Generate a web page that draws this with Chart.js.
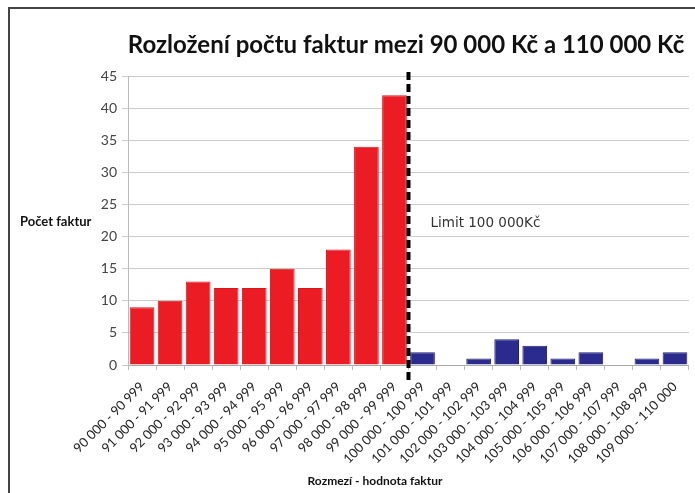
<!DOCTYPE html>
<html>
<head>
<meta charset="utf-8">
<script src="https://cdn.jsdelivr.net/npm/chart.js@4"></script>
<style>
  html, body { margin: 0; padding: 0; background: #fff; }
  #wrap { width: 695px; height: 493px; }
</style>
</head>
<body>
<div id="wrap"><canvas id="myChart" width="695" height="493"></canvas></div>
<script>
var categories = [
    '90 000 - 90 999', '91 000 - 91 999', '92 000 - 92 999', '93 000 - 93 999',
    '94 000 - 94 999', '95 000 - 95 999', '96 000 - 96 999', '97 000 - 97 999',
    '98 000 - 98 999', '99 000 - 99 999', '100 000 - 100 999', '101 000 - 101 999',
    '102 000 - 102 999', '103 000 - 103 999', '104 000 - 104 999', '105 000 - 105 999',
    '106 000 - 106 999', '107 000 - 107 999', '108 000 - 108 999', '109 000 - 110 000'
];
var counts = [9, 10, 13, 12, 12, 15, 12, 18, 34, 42, 2, 0, 1, 4, 3, 1, 2, 0, 1, 2];
var yTicks = [0, 5, 10, 15, 20, 25, 30, 35, 40, 45];
var limitIndex = 10; // první kategorie nad limitem

var titleText = 'Rozložení počtu faktur mezi 90 000 Kč a 110 000 Kč';
var limitText = 'Limit 100 000Kč';
var yTitle = 'Počet faktur';
var xTitle = 'Rozmezí - hodnota faktur';

var fill = counts.map(function (v, i) { return i < limitIndex ? '#ec1c24' : '#2b2b8e'; });
var edge = counts.map(function (v, i) { return i < limitIndex ? '#d3181f' : '#22227a'; });

var extras = {
    id: 'extras',
    beforeDraw: function (chart) {
        var c = chart.ctx;
        c.save();
        c.fillStyle = '#fff';
        c.fillRect(0, 0, chart.width, chart.height);
        c.strokeStyle = '#444';
        c.lineWidth = 2;
        c.beginPath();
        c.moveTo(9, chart.height);
        c.lineTo(9, 8);
        c.lineTo(chart.width, 8);
        c.stroke();
        c.restore();
    },
    afterDraw: function (chart) {
        var c = chart.ctx;
        var x = chart.scales.x, y = chart.scales.y, a = chart.chartArea;
        c.save();
        // titulek
        c.fillStyle = '#111';
        c.font = 'bold 24px Lato';
        c.textAlign = 'center';
        c.textBaseline = 'middle';
        c.fillText(titleText, 406, 45);
        // limit
        var lx = (x.getPixelForValue(limitIndex - 1) + x.getPixelForValue(limitIndex)) / 2;
        c.strokeStyle = '#000';
        c.lineWidth = 4;
        c.setLineDash([8, 4]);
        c.beginPath();
        c.moveTo(lx, a.top - 4);
        c.lineTo(lx, a.bottom + 15);
        c.stroke();
        c.setLineDash([]);
        c.fillStyle = '#333';
        c.font = '13.5px "DejaVu Sans"';
        c.textAlign = 'left';
        c.fillText(limitText, lx + 22, y.getPixelForValue(22));
        // popisky os
        c.fillStyle = '#111';
        c.font = 'bold 13px Lato';
        c.fillText(yTitle, 20, 222);
        c.textAlign = 'center';
        c.font = 'bold 12px Lato';
        c.fillText(xTitle, 375, 481);
        c.restore();
    }
};

var ctx = document.getElementById('myChart').getContext('2d');
var myChart = new Chart(ctx, {
    type: 'bar',
    data: {
        labels: categories,
        datasets: [{
            label: 'Počet faktur',
            data: counts,
            backgroundColor: fill,
            borderColor: edge,
            borderWidth: 1,
            barPercentage: 0.88,
            categoryPercentage: 1
        }]
    },
    options: {
        responsive: false,
        animation: false,
        layout: { padding: { left: 90, top: 76, right: 0, bottom: 0 } },
        plugins: {
            legend: { display: false },
            title: { display: false },
            tooltip: { enabled: false }
        },
        scales: {
            x: {
                afterFit: function (s) { s.height = 128; },
                grid: { display: true, drawOnChartArea: false, offset: true, tickLength: 5, color: '#bbb' },
                border: { color: '#aaa' },
                ticks: {
                    minRotation: 45, maxRotation: 45, autoSkip: false, padding: 9,
                    font: { family: 'Lato', size: 13 }, color: '#222'
                }
            },
            y: {
                min: 0, max: 45,
                afterFit: function (s) { s.width = 38; },
                afterBuildTicks: function (s) { s.ticks = yTicks.map(function (v) { return { value: v }; }); },
                grid: { color: '#ccc', tickLength: 6 },
                border: { color: '#bbb' },
                ticks: { font: { family: 'Lato', size: 14 }, color: '#444', padding: 5 }
            }
        }
    },
    plugins: [extras]
});
</script>
</body>
</html>
